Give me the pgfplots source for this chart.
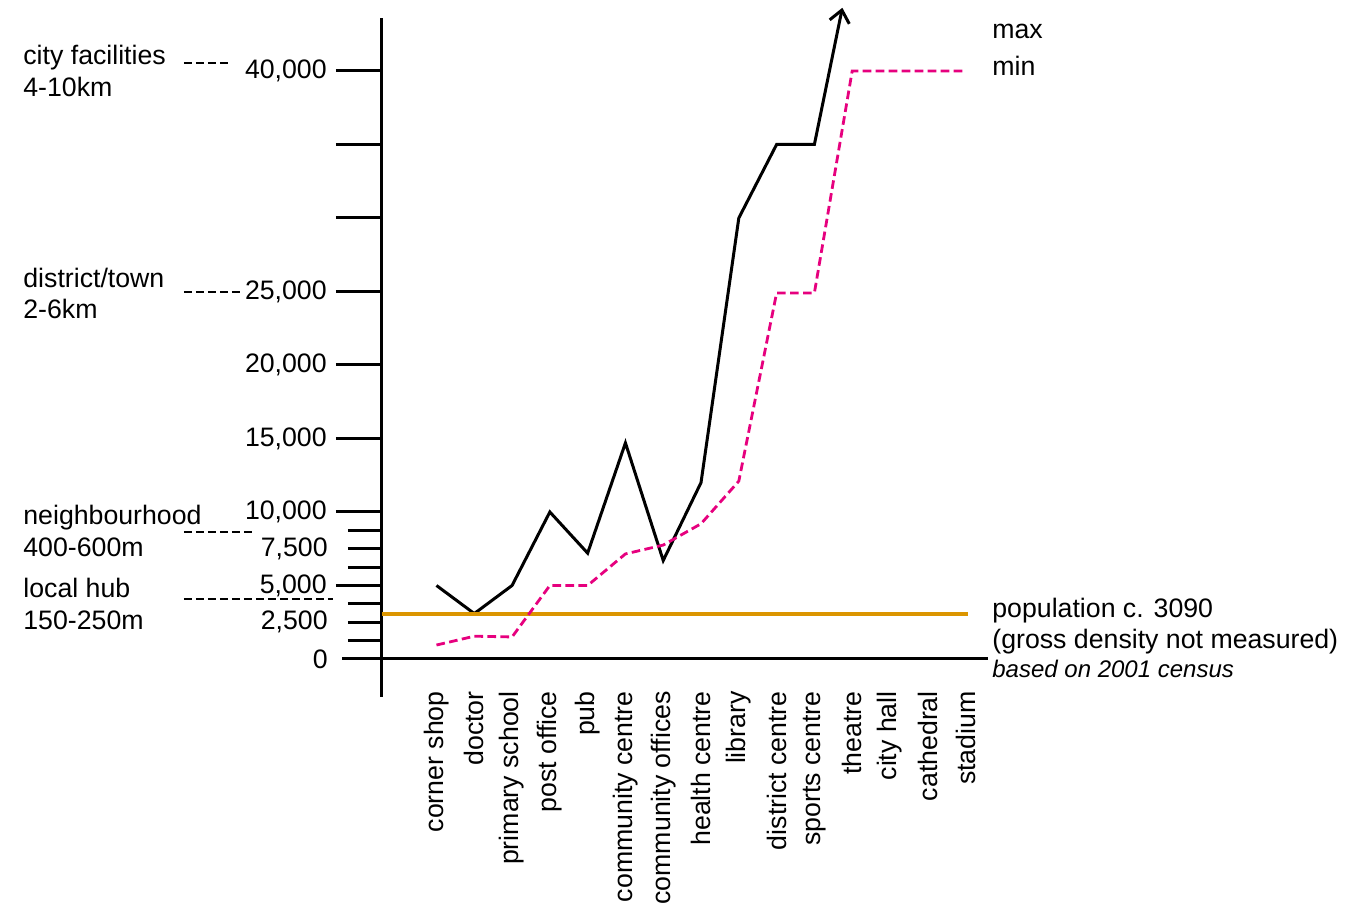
\documentclass[border=0pt]{standalone}
\usepackage{fontspec}
\setmainfont{Liberation Sans}
\usepackage{pgfplots}
\pgfplotsset{compat=1.18}
\usetikzlibrary{arrows.meta}
\definecolor{popline}{HTML}{DB9500}
\definecolor{minline}{HTML}{E6007E}

\begin{document}
\fontsize{13.35}{16}\selectfont
\begin{tikzpicture}
\begin{axis}[
  at={(0,0)}, anchor=south west,
  scale only axis, width=303pt, height=339.5pt,
  xmin=-1.442, xmax=14.594, ymin=-2585, ymax=43605,
  axis y line=left, axis x line=middle,
  axis line style={-, line width=1.5pt},
  clip=false,
  tick align=outside,
  major tick length=23pt, minor tick length=17pt,
  tick style={black, line width=1.5pt},
  ytick={5000,10000,15000,20000,25000,30000,35000,40000},
  yticklabels={{5,000},{10,000},{15,000},{20,000},{25,000},{},{},{40,000}},
  minor ytick={1250,3750,6250,8750},
  extra y ticks={0,2500,7500},
  extra y tick labels={0,{2,500},{7,500}},
  extra y tick style={major tick length=17pt, tick label style={xshift=-5.5pt}},
  xtick={0,...,14},
  xticklabels={corner shop,doctor,primary school,post office,pub,community centre,community offices,health centre,library,district centre,sports centre,theatre,city hall,cathedral,stadium},
  x tick style={draw=none},
  xticklabel shift=-11.5pt,
  xticklabel style={rotate=90, anchor=east},
  tick label style={font=\fontsize{13.35}{16}\selectfont},
]
% max
\addplot[black, line width=1.5pt, -{Straight Barb[length=6pt,width=10pt]}] coordinates {
  (0,5000) (1,3090) (2,5000) (3,10000) (4,7200) (5,14700) (6,6700)
  (7,12000) (8,30000) (9,35000) (10,35000) (10.74,44300)};
% population
\addplot[popline, line width=2pt] coordinates {(-1.442,3090) (14.06,3090)};
% min
\addplot[minline, line width=1.4pt, dash pattern=on 4.3pt off 2.2pt] coordinates {
  (0,950) (1,1550) (2,1500) (3,5000) (4,5000) (5,7150) (6,7750)
  (7,9200) (8,12100) (9,24900) (10,24900) (11,40000) (12,40000)
  (13,40000) (14,40000)};
\draw[line width=1.5pt] (axis cs:-2.5,0) -- (axis cs:-1.442,0);
\end{axis}

\begin{scope}[line width=1pt, dash pattern=on 4pt off 2pt]
  \draw (-99pt,317pt) -- (-75.5pt,317pt);
  \draw (-99pt,202.5pt) -- (-69.5pt,202.5pt);
  \draw (-99pt,82.5pt) -- (-63.5pt,82.5pt);
  \draw (-99pt,49pt) -- (-24.5pt,49pt);
\end{scope}

\begin{scope}[every node/.style={anchor=base west, inner sep=0pt}]
  \node at (-179.5pt,316pt) {city facilities};
  \node at (-179.5pt,300pt) {4-10km};
  \node at (-179.5pt,204.5pt) {district/town};
  \node at (-179.5pt,189pt) {2-6km};
  \node at (-179.5pt,86pt) {neighbourhood};
  \node at (-179.5pt,70pt) {400-600m};
  \node at (-179.5pt,49.5pt) {local hub};
  \node at (-179.5pt,33.5pt) {150-250m};
  \node at (305pt,329pt) {max};
  \node at (305pt,310.5pt) {min};
  \node at (305pt,39.5pt) {population c. 3090};
  \node at (305pt,24pt) {(gross density not measured)};
  \node at (305pt,9.5pt) {\fontsize{12}{14}\selectfont\itshape based on 2001 census};
\end{scope}

\pgfresetboundingbox
\path (-191pt,-103.5pt) rectangle (481.5pt,348.5pt);
\end{tikzpicture}
\end{document}
